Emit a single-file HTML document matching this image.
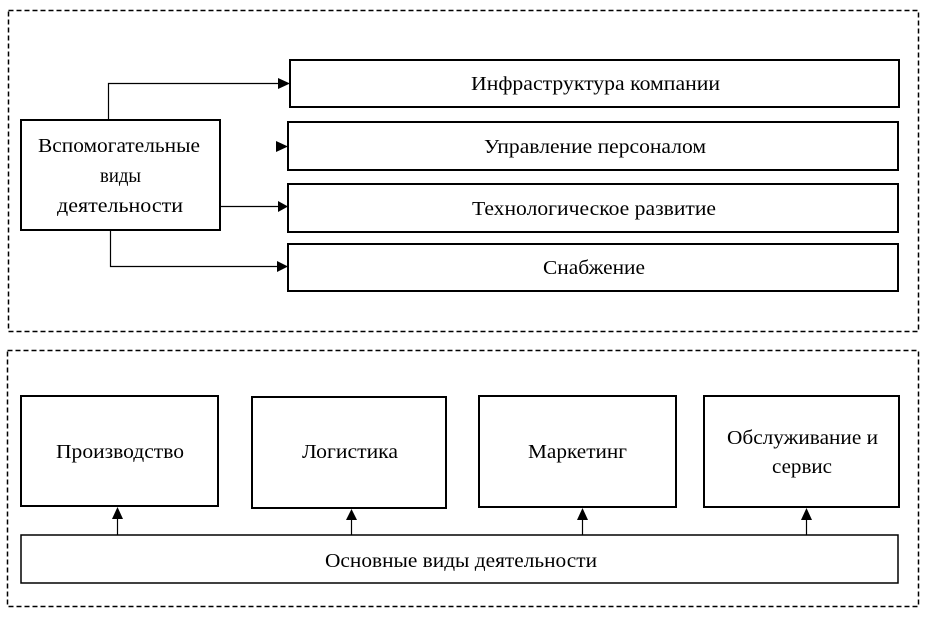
<!DOCTYPE html>
<html><head><meta charset="utf-8"><style>
html,body{margin:0;padding:0;background:#fff;}
svg{display:block;}
text{font-family:"Liberation Serif","DejaVu Serif",serif;font-size:19.5px;fill:#000;}
</style></head><body>
<svg width="926" height="618" viewBox="0 0 926 618" xmlns="http://www.w3.org/2000/svg">
<g fill="none" stroke="#000">
<rect x="8.5" y="10.5" width="910" height="321" stroke-width="1.5" stroke-dasharray="5,3"/>
<rect x="7.5" y="350.5" width="911" height="256" stroke-width="1.5" stroke-dasharray="5,3"/>
<g stroke-width="2">
<rect x="21" y="120" width="199" height="110"/>
<rect x="290" y="60" width="609" height="47"/>
<rect x="288" y="122" width="610" height="48"/>
<rect x="288" y="184" width="610" height="48"/>
<rect x="288" y="244" width="610" height="47"/>
<rect x="21" y="396" width="197" height="110"/>
<rect x="252" y="397" width="194" height="111"/>
<rect x="479" y="396" width="197" height="111"/>
<rect x="704" y="396" width="195" height="111"/>
<rect x="21" y="535" width="877" height="48" stroke-width="1.5"/>
</g>
<g stroke-width="1.2">
<polyline points="108.5,120 108.5,83.5 280,83.5"/>
<line x1="220" y1="206.5" x2="280" y2="206.5"/>
<polyline points="110.5,230 110.5,266.5 280,266.5"/>
<line x1="117.5" y1="535" x2="117.5" y2="518"/>
<line x1="351.5" y1="535" x2="351.5" y2="518"/>
<line x1="582.5" y1="535" x2="582.5" y2="518"/>
<line x1="806.5" y1="535" x2="806.5" y2="518"/>
</g>
</g>
<g fill="#000">
<polygon points="278,78 290,83.5 278,89"/>
<polygon points="276,141 288,146.5 276,152"/>
<polygon points="278,201 288,206.5 278,212"/>
<polygon points="277,261 288,266.5 277,272"/>
<polygon points="112,519 117.5,507 123,519"/>
<polygon points="346,520 351.5,509 357,520"/>
<polygon points="577,520 582.5,508 588,520"/>
<polygon points="801,520 806.5,508 812,520"/>
</g>
<g lengthAdjust="spacingAndGlyphs">
<text x="38" y="152" textLength="162" lengthAdjust="spacingAndGlyphs">Вспомогательные</text>
<text x="100" y="182" textLength="41" lengthAdjust="spacingAndGlyphs">виды</text>
<text x="57" y="212" textLength="126" lengthAdjust="spacingAndGlyphs">деятельности</text>
<text x="471" y="90" textLength="249" lengthAdjust="spacingAndGlyphs">Инфраструктура компании</text>
<text x="484" y="153" textLength="222" lengthAdjust="spacingAndGlyphs">Управление персоналом</text>
<text x="472" y="215" textLength="244" lengthAdjust="spacingAndGlyphs">Технологическое развитие</text>
<text x="543" y="274" textLength="102" lengthAdjust="spacingAndGlyphs">Снабжение</text>
<text x="56" y="458" textLength="128" lengthAdjust="spacingAndGlyphs">Производство</text>
<text x="302" y="458" textLength="96" lengthAdjust="spacingAndGlyphs">Логистика</text>
<text x="528" y="458" textLength="99" lengthAdjust="spacingAndGlyphs">Маркетинг</text>
<text x="727" y="444" textLength="151" lengthAdjust="spacingAndGlyphs">Обслуживание и</text>
<text x="772" y="473" textLength="60" lengthAdjust="spacingAndGlyphs">сервис</text>
<text x="325" y="567" textLength="272" lengthAdjust="spacingAndGlyphs">Основные виды деятельности</text>
</g>
</svg>
</body></html>
